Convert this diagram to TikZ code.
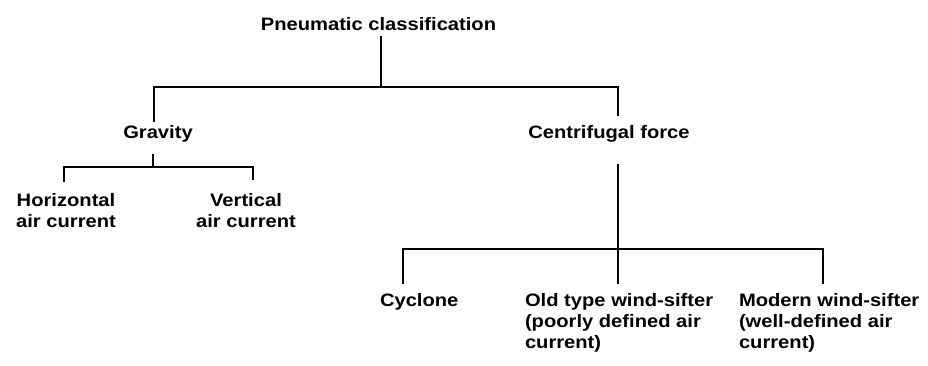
\documentclass[tikz,border=0pt]{standalone}
\usepackage{fontspec}
\setmainfont{Liberation Sans}[FakeStretch=1.12]
\usetikzlibrary{calc}
\begin{document}
\begin{tikzpicture}[x=1pt,y=-1pt,
  lbl/.style={inner sep=0pt, outer sep=0pt, font=\fontsize{18}{21}\selectfont\bfseries},
  conn/.style={line width=1.6pt, line cap=rect, line join=miter}]
\useasboundingbox (0,0) rectangle (928,365);
% nodes
\node[lbl, anchor=north] (title) at (378.5,17) {Pneumatic classification};
\node[lbl, anchor=north] (grav) at (158,125) {Gravity};
\node[lbl, anchor=north] (cent) at (609,125) {Centrifugal force};
\node[lbl, anchor=north, align=center] (horiz) at (66,193) {Horizontal\\air current};
\node[lbl, anchor=north, align=center] (vert) at (246,193) {Vertical\\air current};
\node[lbl, anchor=north west] (cyc) at (380,293) {Cyclone};
\node[lbl, anchor=north west, align=left] (old) at (525,293) {Old type wind-sifter\\(poorly defined air\\current)};
\node[lbl, anchor=north west, align=left] (mod) at (739,293) {Modern wind-sifter\\(well-defined air\\current)};
% junction coordinates
\coordinate (a1) at (381,87);
\coordinate (a2) at (154,87);
\coordinate (a3) at (618,87);
\coordinate (g1) at (153,167);
\coordinate (g2) at (64,167);
\coordinate (g3) at (253,167);
\coordinate (c1) at (618,249);
\coordinate (c2) at (403,249);
\coordinate (c3) at (823,249);
% connectors
\draw[conn] ($(title.south -| a1)+(0,7)$) -- (a1);
\draw[conn] ($(grav.north -| a2)+(0,-4)$) -- (a2) -- (a3) -- ($(cent.north -| a3)+(0,-10)$);
\draw[conn] ($(grav.south -| g1)+(0,13)$) -- (g1);
\draw[conn] ($(horiz.north -| g2)+(0,-12)$) -- (g2) -- (g3) -- ($(vert.north -| g3)+(0,-14)$);
\draw[conn] ($(cent.south -| c1)+(0,23)$) -- ($(old.north -| c1)+(0,-10)$);
\draw[conn] ($(cyc.north -| c2)+(0,-10)$) -- (c2) -- (c3) -- ($(mod.north -| c3)+(0,-10)$);
\end{tikzpicture}
\end{document}
